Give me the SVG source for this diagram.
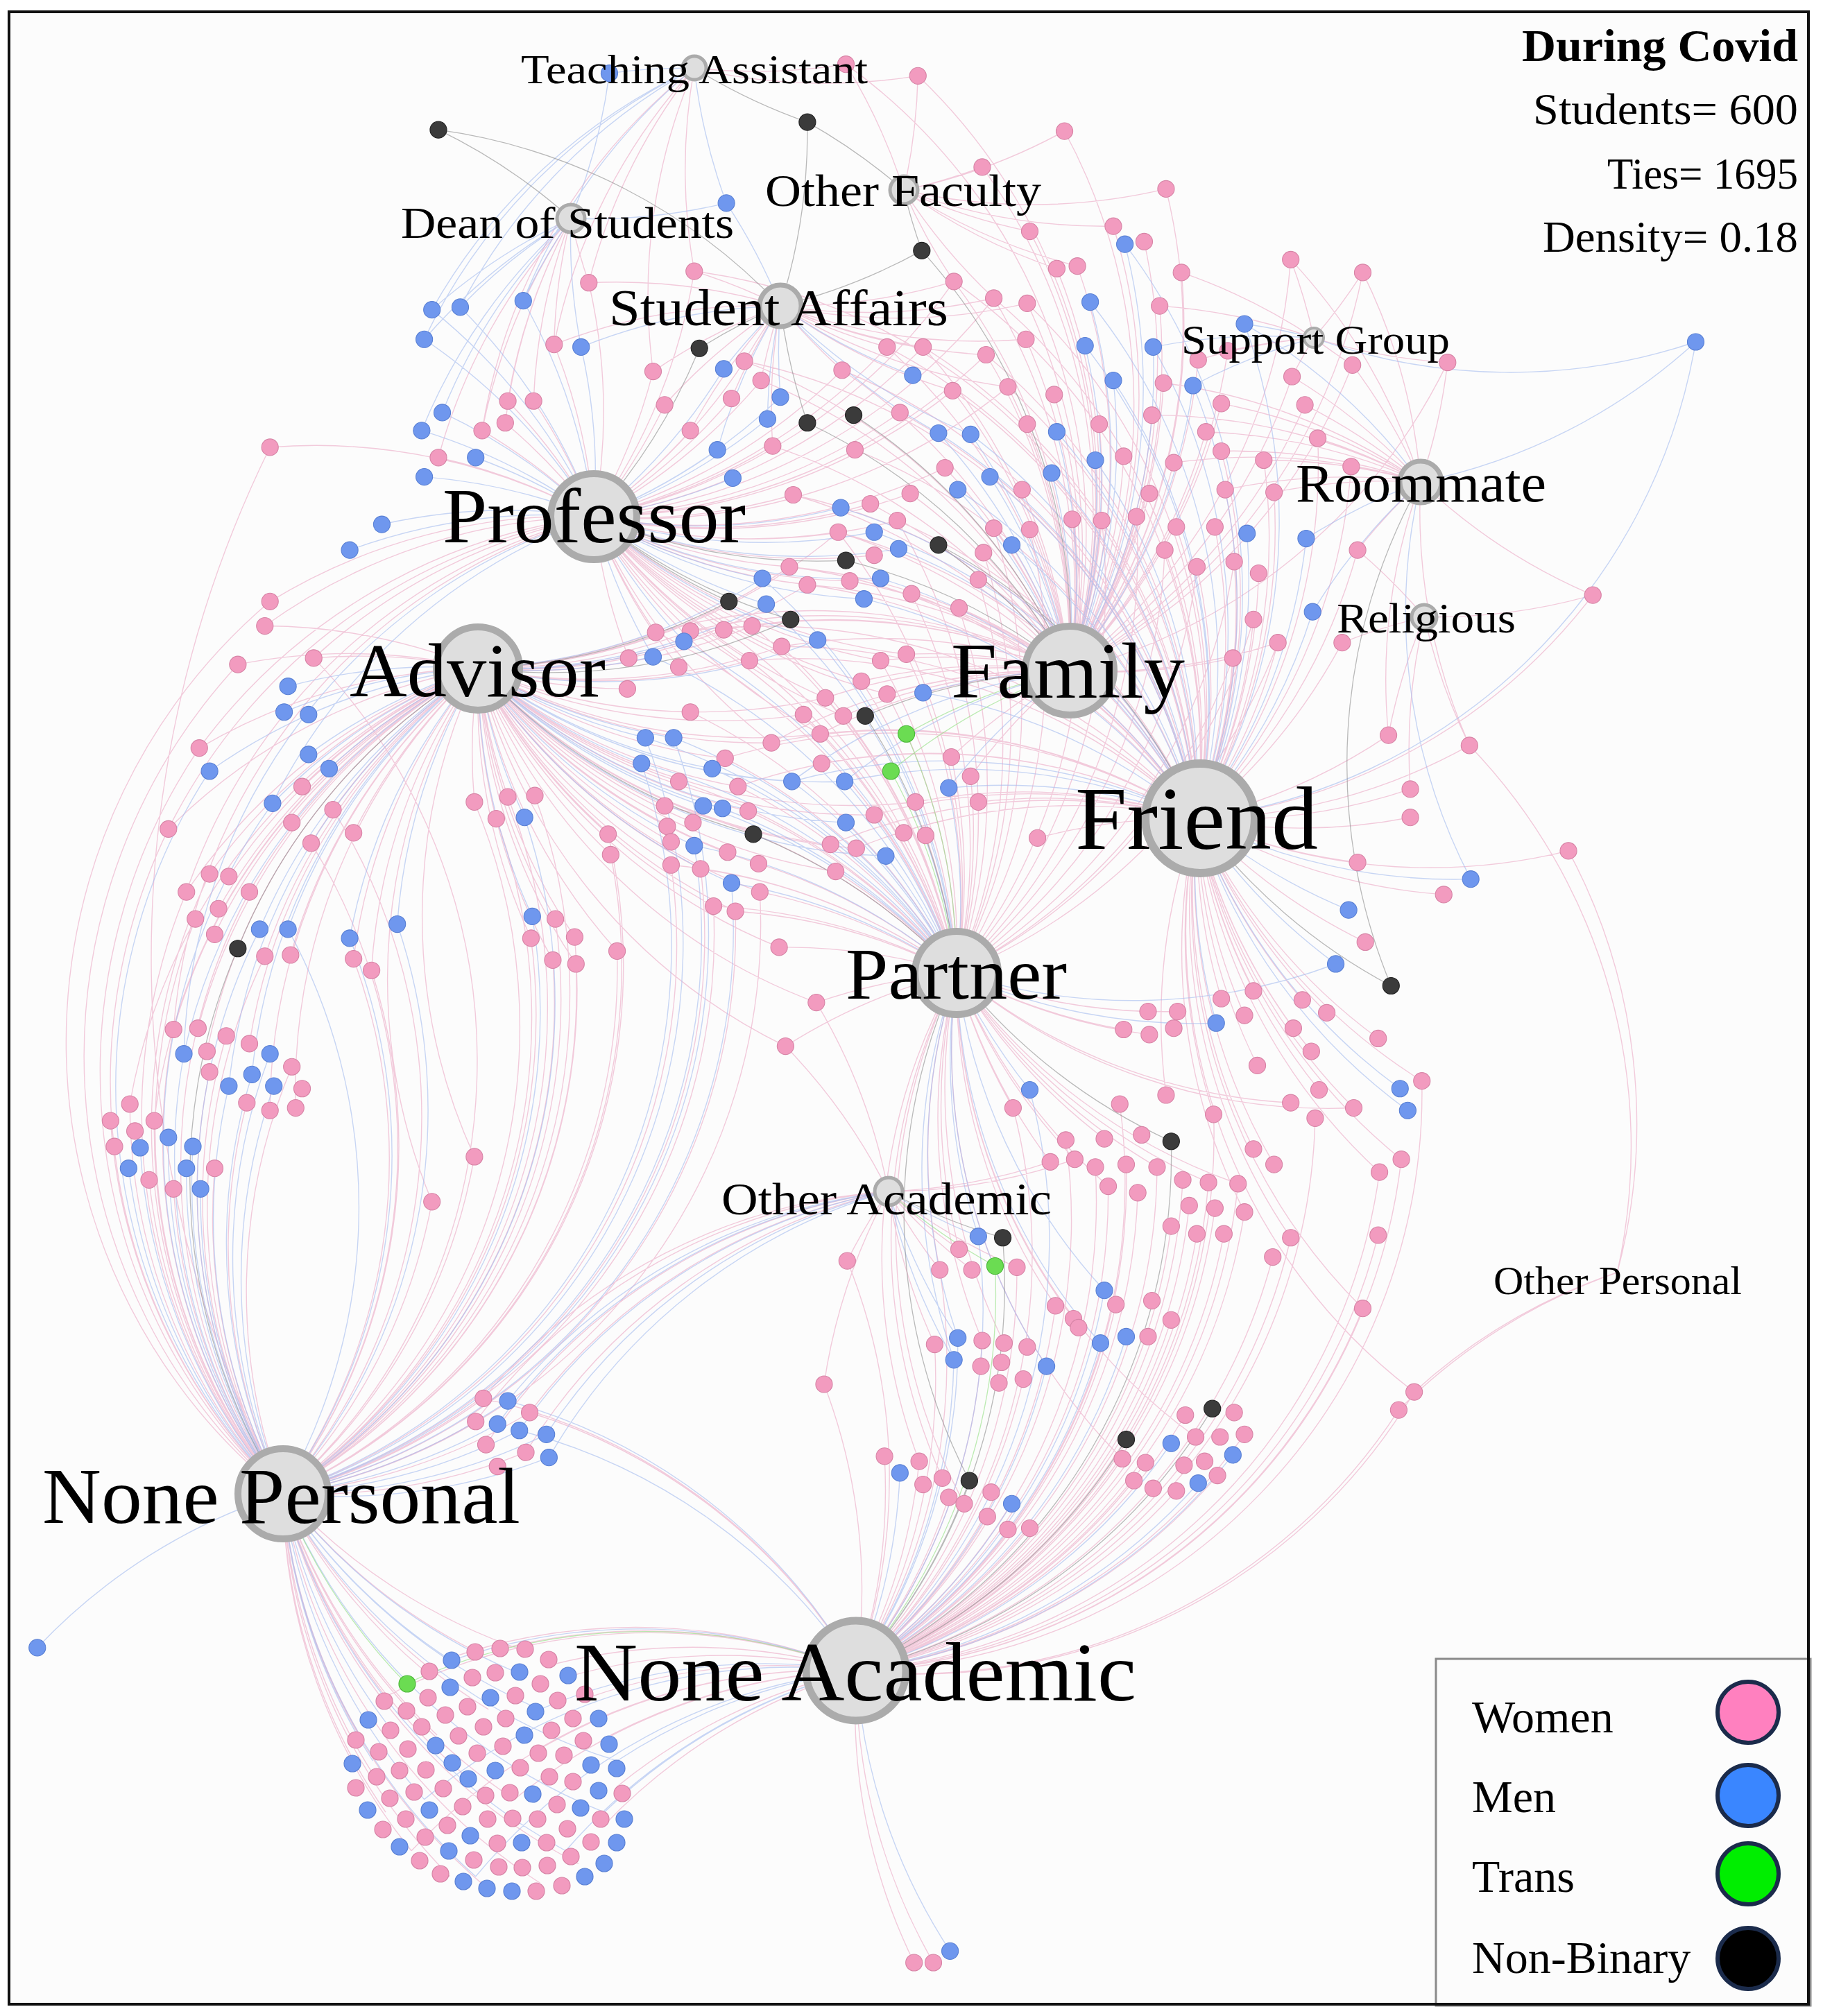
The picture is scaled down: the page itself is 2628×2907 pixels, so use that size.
<svg xmlns="http://www.w3.org/2000/svg" width="2628" height="2907" viewBox="0 0 2628 2907">
<style>
.w{fill:#f29bbf;stroke:#d784a6}
.m{fill:#6f97ee;stroke:#5a80d4}
.n{fill:#3b3b3b;stroke:#222}
.t{fill:#6bdc52;stroke:#4cb83a}
.st circle{stroke-width:.6}
.bl circle{stroke-width:1.2}
.hub{fill:#dedede;stroke:#ababab}
.lbl{font-family:"Liberation Serif","Times New Roman",serif;fill:#000}
.ep{fill:none;stroke:#eba9c5;stroke-width:.75;stroke-opacity:.6}
.eb{fill:none;stroke:#a3bbef;stroke-width:.75;stroke-opacity:.6}
.eg{fill:none;stroke:#8c8c8c;stroke-width:.7;stroke-opacity:.6}
.et{fill:none;stroke:#8fe07f;stroke-width:.7;stroke-opacity:.6}
.lg{stroke:#1b2b4b;stroke-width:6}
</style>
<rect width="2628" height="2907" fill="#fff"/>
<rect x="13" y="17" width="2594" height="2873" fill="#fcfcfc"/>
<g id="connectors" transform="scale(1.8533)">
<path class="ep" d="M300 1320A450 450 0 0 1 220 1162M330 1300A450 450 0 0 1 220 1162M370 1285A450 450 0 0 1 220 1162M410 1285A450 450 0 0 1 220 1162M280 1350A450 450 0 0 1 220 1162M290 1380A450 450 0 0 1 220 1162M300 1410A450 450 0 0 1 220 1162M320 1440A450 450 0 0 1 220 1162M350 1460A450 450 0 0 1 220 1162M380 1470A450 450 0 0 1 220 1162M420 1465A450 450 0 0 1 220 1162M340 1350A450 450 0 0 1 220 1162M360 1380A450 450 0 0 1 220 1162M400 1400A450 450 0 0 1 220 1162M380 1330A450 450 0 0 1 220 1162M450 1450A450 450 0 0 1 220 1162M145 694A450 450 0 0 0 220 1162M163 680A450 450 0 0 0 220 1162M194 694A450 450 0 0 0 220 1162M152 715A450 450 0 0 0 220 1162M206 744A450 450 0 0 0 220 1162M135 801A450 450 0 0 0 220 1162M176 806A450 450 0 0 0 220 1162M227 830A450 450 0 0 0 220 1162M163 834A450 450 0 0 0 220 1162M192 858A450 450 0 0 0 220 1162M101 859A450 450 0 0 0 220 1162M86 872A450 450 0 0 0 220 1162M120 872A450 450 0 0 0 220 1162M116 918A450 450 0 0 0 220 1162M167 909A450 450 0 0 0 220 1162M135 925A450 450 0 0 0 220 1162M155 582A450 450 0 0 0 220 1162M131 645A450 450 0 0 0 220 1162M259 630A450 450 0 0 1 220 1162M242 656A450 450 0 0 1 220 1162M275 746A450 450 0 0 1 220 1162M289 755A450 450 0 0 1 220 1162M336 935A450 450 0 0 1 220 1162M369 900A450 450 0 0 1 220 1162M210 468A450 450 0 0 0 220 1162M185 517A450 450 0 0 0 220 1162M376 1088A450 450 0 0 1 220 1162M412 1099A450 450 0 0 1 220 1162M370 1106A450 450 0 0 1 220 1162M409 1130A450 450 0 0 1 220 1162M210 348A900 900 0 0 0 220 1162M244 512A450 450 0 0 1 220 1162M432 715A450 450 0 0 1 220 1162M413 730A450 450 0 0 1 220 1162M447 729A450 450 0 0 1 220 1162M430 747A450 450 0 0 1 220 1162M448 750A450 450 0 0 1 220 1162M480 740A450 450 0 0 1 220 1162M369 624A450 450 0 0 1 220 1162M395 620A450 450 0 0 1 220 1162M416 619A450 450 0 0 1 220 1162M386 637A450 450 0 0 1 220 1162M473 649A450 450 0 0 1 220 1162M475 665A450 450 0 0 1 220 1162M522 673A450 450 0 0 1 220 1162M545 676A450 450 0 0 1 220 1162M555 705A450 450 0 0 1 220 1162M572 709A450 450 0 0 1 220 1162M591 694A450 450 0 0 1 220 1162
M430 1295A450 450 0 0 1 666 1300M460 1320A450 450 0 0 1 666 1300M475 1350A450 450 0 0 1 666 1300M480 1390A450 450 0 0 1 666 1300M470 1420A450 450 0 0 1 666 1300M440 1305A450 450 0 0 1 666 1300M420 1360A450 450 0 0 1 666 1300M400 1400A450 450 0 0 1 666 1300M350 1290A450 450 0 0 1 666 1300M390 1283A450 450 0 0 1 666 1300M320 1440A450 450 0 0 1 666 1300M300 1320A450 450 0 0 1 666 1300M873 1135A450 450 0 0 1 666 1300M891 1138A450 450 0 0 1 666 1300M882 1152A450 450 0 0 1 666 1300M915 1160A450 450 0 0 1 666 1300M947 1148A450 450 0 0 1 666 1300M968 1116A450 450 0 0 1 666 1300M922 1101A450 450 0 0 1 666 1300M688 1133A450 450 0 0 1 666 1300M715 1137A450 450 0 0 1 666 1300M738 1165A450 450 0 0 1 666 1300M768 1180A450 450 0 0 1 666 1300M801 1189A450 450 0 0 1 666 1300M727 1046A450 450 0 0 1 666 1300M764 1043A450 450 0 0 1 666 1300M796 1073A450 450 0 0 1 666 1300M821 1016A450 450 0 0 1 666 1300M868 1015A450 450 0 0 1 666 1300M911 1027A450 450 0 0 1 666 1300M731 988A450 450 0 0 1 666 1300M791 986A450 450 0 0 1 666 1300M659 981A450 450 0 0 1 666 1300M641 1077A450 450 0 0 1 666 1300M829 887A450 450 0 0 1 666 1300M852 908A450 450 0 0 1 666 1300M885 928A450 450 0 0 1 666 1300M925 938A450 450 0 0 1 666 1300M952 960A450 450 0 0 1 666 1300M990 978A450 450 0 0 1 666 1300M1072 961A450 450 0 0 1 666 1300M1060 1018A450 450 0 0 1 666 1300M1100 1083A450 450 0 0 1 666 1300M1088 1097A450 450 0 0 1 666 1300M711 1527A450 450 0 0 1 666 1300M726 1527A450 450 0 0 1 666 1300M376 1088A450 450 0 0 1 666 1300M412 1099A450 450 0 0 1 666 1300M788 862A450 450 0 0 1 666 1300M871 859A450 450 0 0 1 666 1300M944 867A450 450 0 0 1 666 1300M1004 963A450 450 0 0 1 666 1300M968 943A450 450 0 0 1 666 1300M945 940A450 450 0 0 1 666 1300M911 954A450 450 0 0 1 666 1300M931 960A450 450 0 0 1 666 1300M963 921A450 450 0 0 1 666 1300M940 920A450 450 0 0 1 666 1300M920 918A450 450 0 0 1 666 1300M862 923A450 450 0 0 1 666 1300M876 906A450 450 0 0 1 666 1300M900 908A450 450 0 0 1 666 1300M1090 902A450 450 0 0 1 666 1300M1073 912A450 450 0 0 1 666 1300M1106 841A450 450 0 0 1 666 1300M1023 870A450 450 0 0 1 666 1300
M893 787A450 450 0 0 1 744 757M916 787A450 450 0 0 1 744 757M874 801A450 450 0 0 1 744 757M894 805A450 450 0 0 1 744 757M788 862A450 450 0 0 1 744 757M836 902A450 450 0 0 1 744 757M859 886A450 450 0 0 1 744 757M900 908A450 450 0 0 1 744 757M817 904A450 450 0 0 1 744 757M862 923A450 450 0 0 1 744 757M746 972A450 450 0 0 1 744 757M731 988A450 450 0 0 1 744 757M764 1043A450 450 0 0 1 744 757M781 1045A450 450 0 0 1 744 757M821 1016A450 450 0 0 1 744 757M835 1026A450 450 0 0 1 744 757M715 1137A450 450 0 0 1 744 757M733 1150A450 450 0 0 1 744 757M750 1170A450 450 0 0 1 744 757M635 780A450 450 0 0 1 744 757M611 814A450 450 0 0 1 744 757M606 737A450 450 0 0 1 744 757M703 648A450 450 0 0 1 744 757M720 650A450 450 0 0 1 744 757M761 624A450 450 0 0 1 744 757M740 589A450 450 0 0 1 744 757M755 604A450 450 0 0 1 744 757M680 634A450 450 0 0 1 744 757M650 678A450 450 0 0 1 744 757M1004 858A450 450 0 0 1 744 757M1053 862A450 450 0 0 1 744 757M940 920A450 450 0 0 1 744 757M963 921A450 450 0 0 1 744 757M873 1135A450 450 0 0 1 744 757M930 1118A450 450 0 0 1 744 757M510 492A450 450 0 0 1 744 757M537 491A450 450 0 0 1 744 757M563 490A450 450 0 0 1 744 757M585 487A450 450 0 0 1 744 757M583 514A450 450 0 0 1 744 757M608 503A450 450 0 0 1 744 757M537 554A450 450 0 0 1 744 757M564 590A450 450 0 0 1 744 757M528 608A450 450 0 0 1 744 757M574 612A450 450 0 0 1 744 757M517 627A450 450 0 0 1 744 757M582 631A450 450 0 0 1 744 757M522 673A450 450 0 0 1 744 757M545 676A450 450 0 0 1 744 757M590 672A450 450 0 0 1 744 757M591 694A450 450 0 0 1 744 757M555 705A450 450 0 0 1 744 757M572 709A450 450 0 0 1 744 757M652 414A450 450 0 0 1 744 757M698 405A450 450 0 0 1 744 757M773 411A450 450 0 0 1 744 757M801 412A450 450 0 0 1 744 757M834 404A450 450 0 0 1 744 757M857 405A450 450 0 0 1 744 757M884 402A450 450 0 0 1 744 757M765 430A450 450 0 0 1 744 757M709 462A450 450 0 0 1 744 757M746 473A450 450 0 0 1 744 757M761 451A450 450 0 0 1 744 757M685 514A450 450 0 0 1 744 757M705 509A450 450 0 0 1 744 757M670 530A450 450 0 0 1 744 757M690 540A450 450 0 0 1 744 757M642 543A450 450 0 0 1 744 757M656 557A450 450 0 0 1 744 757M625 556A450 450 0 0 1 744 757M906 428A450 450 0 0 1 744 757M931 441A450 450 0 0 1 744 757M960 437A450 450 0 0 1 744 757M959 512A450 450 0 0 1 744 757M994 500A450 450 0 0 1 744 757M975 482A450 450 0 0 1 744 757
M950 777A450 450 0 0 1 931 637M975 771A450 450 0 0 1 931 637M1013 778A450 450 0 0 1 931 637M1032 788A450 450 0 0 1 931 637M968 790A450 450 0 0 1 931 637M1006 800A450 450 0 0 1 931 637M978 829A450 450 0 0 1 931 637M1020 818A450 450 0 0 1 931 637M1072 808A450 450 0 0 1 931 637M1106 841A450 450 0 0 1 931 637M1026 848A450 450 0 0 1 931 637M1053 862A450 450 0 0 1 931 637M1073 912A450 450 0 0 1 931 637M1090 902A450 450 0 0 1 931 637M975 894A450 450 0 0 1 931 637M991 906A450 450 0 0 1 931 637M907 852A450 450 0 0 1 931 637M944 867A450 450 0 0 1 931 637M1080 572A450 450 0 0 1 931 637M1143 580A450 450 0 0 1 931 637M1097 614A450 450 0 0 1 931 637M1097 636A450 450 0 0 1 931 637M1056 671A450 450 0 0 1 931 637M1123 696A450 450 0 0 1 931 637M1062 733A450 450 0 0 1 931 637M1220 662A450 450 0 0 1 931 637M1239 463A450 450 0 0 1 931 637M994 500A450 450 0 0 1 931 637M1044 500A450 450 0 0 1 931 637M975 482A450 450 0 0 1 931 637M959 512A450 450 0 0 1 931 637M906 428A450 450 0 0 1 931 637M931 441A450 450 0 0 1 931 637M960 437A450 450 0 0 1 931 637M979 446A450 450 0 0 1 931 637M915 410A450 450 0 0 1 931 637M945 410A450 450 0 0 1 931 637M953 381A450 450 0 0 1 931 637M991 383A450 450 0 0 1 931 637M1056 428A450 450 0 0 1 931 637M1051 363A450 450 0 0 1 931 637M1025 341A450 450 0 0 1 931 637M950 351A450 450 0 0 1 931 637M983 358A450 450 0 0 1 931 637M807 652A450 450 0 0 1 931 637M761 624A450 450 0 0 1 931 637M746 473A450 450 0 0 1 931 637M761 451A450 450 0 0 1 931 637M709 462A450 450 0 0 1 931 637M1004 963A450 450 0 0 1 931 637M1060 1018A450 450 0 0 1 931 637M968 943A450 450 0 0 1 931 637M1100 1083A450 450 0 0 1 931 637M540 211A450 450 0 0 1 931 637M579 281A450 450 0 0 1 931 637M655 288A450 450 0 0 1 931 637M690 270A450 450 0 0 1 931 637M718 270A450 450 0 0 1 931 637M742 219A450 450 0 0 1 931 637M773 232A450 450 0 0 1 931 637M799 236A450 450 0 0 1 931 637M767 276A450 450 0 0 1 931 637M741 304A450 450 0 0 1 931 637M784 301A450 450 0 0 1 931 637M700 321A450 450 0 0 1 931 637M665 350A450 450 0 0 1 931 637M617 385A450 450 0 0 1 931 637M652 414A450 450 0 0 1 931 637M698 405A450 450 0 0 1 931 637M614 441A450 450 0 0 1 931 637M628 455A450 450 0 0 1 931 637M537 491A450 450 0 0 1 931 637M583 514A450 450 0 0 1 931 637M608 503A450 450 0 0 1 931 637M600 578A450 450 0 0 1 931 637M638 571A450 450 0 0 1 931 637M564 590A450 450 0 0 1 931 637M574 612A450 450 0 0 1 931 637M639 594A450 450 0 0 1 931 637M712 624A450 450 0 0 1 931 637M680 634A450 450 0 0 1 931 637M646 657A450 450 0 0 1 931 637M666 660A450 450 0 0 1 931 637
M913 360A450 450 0 0 1 832 522M874 355A450 450 0 0 1 832 522M894 384A450 450 0 0 1 832 522M884 402A450 450 0 0 1 832 522M857 405A450 450 0 0 1 832 522M834 404A450 450 0 0 1 832 522M801 412A450 450 0 0 1 832 522M773 411A450 450 0 0 1 832 522M765 430A450 450 0 0 1 832 522M795 381A450 450 0 0 1 832 522M735 364A450 450 0 0 1 832 522M708 384A450 450 0 0 1 832 522M677 392A450 450 0 0 1 832 522M799 330A450 450 0 0 1 832 522M855 330A450 450 0 0 1 832 522M896 323A450 450 0 0 1 832 522M938 336A450 450 0 0 1 832 522M820 307A450 450 0 0 1 832 522M905 298A450 450 0 0 1 832 522M950 314A450 450 0 0 1 832 522M1005 293A450 450 0 0 1 832 522M902 238A450 450 0 0 1 832 522M932 280A450 450 0 0 1 832 522M955 273A450 450 0 0 1 832 522M919 212A450 450 0 0 1 832 522M1004 202A450 450 0 0 1 832 522M1060 212A450 450 0 0 1 832 522M866 176A450 450 0 0 1 832 522M890 188A450 450 0 0 1 832 522M828 102A450 450 0 0 1 832 522M907 147A450 450 0 0 1 832 522M685 514A450 450 0 0 1 832 522M705 509A450 450 0 0 1 832 522M670 530A450 450 0 0 1 832 522M690 540A450 450 0 0 1 832 522M642 543A450 450 0 0 1 832 522M656 557A450 450 0 0 1 832 522M600 578A450 450 0 0 1 832 522M638 571A450 450 0 0 1 832 522M740 589A450 450 0 0 1 832 522M755 604A450 450 0 0 1 832 522M959 512A450 450 0 0 1 832 522M994 500A450 450 0 0 1 832 522M746 473A450 450 0 0 1 832 522M1126 282A450 450 0 0 1 832 522M1052 284A450 450 0 0 1 832 522M1015 315A450 450 0 0 1 832 522M510 492A450 450 0 0 1 832 522M537 491A450 450 0 0 1 832 522M563 490A450 450 0 0 1 832 522M585 487A450 450 0 0 1 832 522M608 503A450 450 0 0 1 832 522M614 441A450 450 0 0 1 832 522M628 455A450 450 0 0 1 832 522M661 452A450 450 0 0 1 832 522M652 414A450 450 0 0 1 832 522M617 385A450 450 0 0 1 832 522M601 347A450 450 0 0 1 832 522M592 296A450 450 0 0 1 832 522M579 281A450 450 0 0 1 832 522M655 288A450 450 0 0 1 832 522M690 270A450 450 0 0 1 832 522M718 270A450 450 0 0 1 832 522M741 304A450 450 0 0 1 832 522M784 301A450 450 0 0 1 832 522M767 276A450 450 0 0 1 832 522M798 264A450 450 0 0 1 832 522M773 232A450 450 0 0 1 832 522M799 236A450 450 0 0 1 832 522M742 219A450 450 0 0 1 832 522M822 209A450 450 0 0 1 832 522M838 207A450 450 0 0 1 832 522M801 180A450 450 0 0 1 832 522M764 130A450 450 0 0 1 832 522M714 59A450 450 0 0 1 832 522M658 50A450 450 0 0 1 832 522
M375 335A450 450 0 0 1 462 402M393 329A450 450 0 0 1 462 402M395 312A450 450 0 0 1 462 402M415 312A450 450 0 0 1 462 402M341 356A450 450 0 0 1 462 402M431 268A450 450 0 0 1 462 402M458 220A450 450 0 0 1 462 402M508 289A450 450 0 0 1 462 402M517 315A450 450 0 0 1 462 402M537 335A450 450 0 0 1 462 402M569 310A450 450 0 0 1 462 402M579 281A450 450 0 0 1 462 402M592 296A450 450 0 0 1 462 402M601 347A450 450 0 0 1 462 402M617 385A450 450 0 0 1 462 402M614 441A450 450 0 0 1 462 402M628 455A450 450 0 0 1 462 402M652 414A450 450 0 0 1 462 402M510 492A450 450 0 0 1 462 402M537 491A450 450 0 0 1 462 402M563 490A450 450 0 0 1 462 402M585 487A450 450 0 0 1 462 402M583 514A450 450 0 0 1 462 402M608 503A450 450 0 0 1 462 402M489 512A450 450 0 0 1 462 402M528 519A450 450 0 0 1 462 402M540 211A450 450 0 0 1 462 402M655 288A450 450 0 0 1 462 402M665 350A450 450 0 0 1 462 402M700 321A450 450 0 0 1 462 402M210 348A450 450 0 0 1 462 402M661 452A450 450 0 0 1 462 402M680 432A450 450 0 0 1 462 402M244 512A450 450 0 0 1 462 402M206 487A450 450 0 0 1 462 402M210 468A450 450 0 0 1 462 402M135 801A450 450 0 0 1 462 402M145 694A450 450 0 0 1 462 402M155 582A450 450 0 0 1 462 402M131 645A450 450 0 0 1 462 402M685 514A450 450 0 0 1 462 402M705 509A450 450 0 0 1 462 402M670 530A450 450 0 0 1 462 402M690 540A450 450 0 0 1 462 402M642 543A450 450 0 0 1 462 402M656 557A450 450 0 0 1 462 402M600 578A450 450 0 0 1 462 402M638 571A450 450 0 0 1 462 402M698 405A450 450 0 0 1 462 402M708 384A450 450 0 0 1 462 402M735 364A450 450 0 0 1 462 402M677 392A450 450 0 0 1 462 402M741 304A450 450 0 0 1 462 402M784 301A450 450 0 0 1 462 402M767 276A450 450 0 0 1 462 402M690 270A450 450 0 0 1 462 402M718 270A450 450 0 0 1 462 402M742 219A450 450 0 0 1 462 402M773 232A450 450 0 0 1 462 402
M244 512A450 450 0 0 1 372 520M185 517A450 450 0 0 1 372 520M206 487A450 450 0 0 1 372 520M155 582A450 450 0 0 1 372 520M235 612A450 450 0 0 1 372 520M259 630A450 450 0 0 1 372 520M227 640A450 450 0 0 1 372 520M131 645A450 450 0 0 1 372 520M275 648A450 450 0 0 1 372 520M242 656A450 450 0 0 1 372 520M369 624A450 450 0 0 1 372 520M395 620A450 450 0 0 1 372 520M416 619A450 450 0 0 1 372 520M386 637A450 450 0 0 1 372 520M473 649A450 450 0 0 1 372 520M475 665A450 450 0 0 1 372 520M517 627A450 450 0 0 1 372 520M519 643A450 450 0 0 1 372 520M522 655A450 450 0 0 1 372 520M522 673A450 450 0 0 1 372 520M545 676A450 450 0 0 1 372 520M566 663A450 450 0 0 1 372 520M590 672A450 450 0 0 1 372 520M591 694A450 450 0 0 1 372 520M555 705A450 450 0 0 1 372 520M572 709A450 450 0 0 1 372 520M582 631A450 450 0 0 1 372 520M539 640A450 450 0 0 1 372 520M528 608A450 450 0 0 1 372 520M574 612A450 450 0 0 1 372 520M564 590A450 450 0 0 1 372 520M537 554A450 450 0 0 1 372 520M488 536A450 450 0 0 1 372 520M489 512A450 450 0 0 1 372 520M432 715A450 450 0 0 1 372 520M413 730A450 450 0 0 1 372 520M447 729A450 450 0 0 1 372 520M430 747A450 450 0 0 1 372 520M448 750A450 450 0 0 1 372 520M480 740A450 450 0 0 1 372 520M145 694A450 450 0 0 1 372 520M163 680A450 450 0 0 1 372 520M178 682A450 450 0 0 1 372 520M194 694A450 450 0 0 1 372 520M170 707A450 450 0 0 1 372 520M167 727A450 450 0 0 1 372 520M206 744A450 450 0 0 1 372 520M226 743A450 450 0 0 1 372 520M275 746A450 450 0 0 1 372 520M289 755A450 450 0 0 1 372 520M135 801A450 450 0 0 1 372 520M154 800A450 450 0 0 1 372 520M194 812A450 450 0 0 1 372 520M161 818A450 450 0 0 1 372 520M210 864A450 450 0 0 1 372 520M230 862A450 450 0 0 1 372 520M369 900A450 450 0 0 1 372 520M336 935A450 450 0 0 1 372 520M101 859A450 450 0 0 1 372 520M120 872A450 450 0 0 1 372 520M614 441A450 450 0 0 1 372 520M628 455A450 450 0 0 1 372 520M652 414A450 450 0 0 1 372 520M510 492A450 450 0 0 1 372 520M537 491A450 450 0 0 1 372 520M563 490A450 450 0 0 1 372 520M585 487A450 450 0 0 1 372 520M583 514A450 450 0 0 1 372 520M608 503A450 450 0 0 1 372 520M600 578A450 450 0 0 1 372 520M638 571A450 450 0 0 1 372 520M625 556A450 450 0 0 1 372 520M642 543A450 450 0 0 1 372 520M712 624A450 450 0 0 1 372 520M680 634A450 450 0 0 1 372 520M646 657A450 450 0 0 1 372 520M666 660A450 450 0 0 1 372 520M650 678A450 450 0 0 1 372 520M606 737A450 450 0 0 1 372 520M635 780A450 450 0 0 1 372 520M611 814A450 450 0 0 1 372 520
M540 211A450 450 0 0 1 607 238M579 281A450 450 0 0 1 607 238M592 296A450 450 0 0 1 607 238M655 288A450 450 0 0 1 607 238M690 270A450 450 0 0 1 607 238M718 270A450 450 0 0 1 607 238M742 219A450 450 0 0 1 607 238M773 232A450 450 0 0 1 607 238M799 236A450 450 0 0 1 607 238M767 276A450 450 0 0 1 607 238M798 264A450 450 0 0 1 607 238M741 304A450 450 0 0 1 607 238M784 301A450 450 0 0 1 607 238M569 310A450 450 0 0 1 607 238M508 289A450 450 0 0 1 607 238M458 220A450 450 0 0 1 607 238M431 268A450 450 0 0 1 607 238M601 347A450 450 0 0 1 607 238M537 335A450 450 0 0 1 607 238M517 315A450 450 0 0 1 607 238
M658 50A450 450 0 0 1 703 148M714 59A450 450 0 0 1 703 148M764 130A450 450 0 0 1 703 148M801 180A450 450 0 0 1 703 148M742 219A450 450 0 0 1 703 148M822 209A450 450 0 0 1 703 148M838 207A450 450 0 0 1 703 148M773 232A450 450 0 0 1 703 148M828 102A450 450 0 0 1 703 148M907 147A450 450 0 0 1 703 148M866 176A450 450 0 0 1 703 148
M458 220A450 450 0 0 1 540 53M540 211A450 450 0 0 1 540 53M658 50A450 450 0 0 1 540 53M431 268A450 450 0 0 1 540 53M508 289A450 450 0 0 1 540 53M375 335A450 450 0 0 1 540 53M714 59A450 450 0 0 1 540 53
M431 268A450 450 0 0 1 444 170M458 220A450 450 0 0 1 444 170M395 312A450 450 0 0 1 444 170M415 312A450 450 0 0 1 444 170M375 335A450 450 0 0 1 444 170M393 329A450 450 0 0 1 444 170M341 356A450 450 0 0 1 444 170
M1126 282A450 450 0 0 1 1105 375M1052 284A450 450 0 0 1 1105 375M1005 293A450 450 0 0 1 1105 375M1015 315A450 450 0 0 1 1105 375M1025 341A450 450 0 0 1 1105 375M1051 363A450 450 0 0 1 1105 375M1056 428A450 450 0 0 1 1105 375M1239 463A450 450 0 0 1 1105 375M1143 580A450 450 0 0 1 1105 375M1080 572A450 450 0 0 1 1105 375M983 358A450 450 0 0 1 1105 375M991 383A450 450 0 0 1 1105 375M950 314A450 450 0 0 1 1105 375M1060 212A450 450 0 0 1 1105 375M1004 202A450 450 0 0 1 1105 375M913 360A450 450 0 0 1 1105 375M950 351A450 450 0 0 1 1105 375M953 381A450 450 0 0 1 1105 375M938 336A450 450 0 0 1 1105 375M896 323A450 450 0 0 1 1105 375M905 298A450 450 0 0 1 1105 375
M1004 202A450 450 0 0 1 1022 263M1060 212A450 450 0 0 1 1022 263M955 273A450 450 0 0 1 1022 263M932 280A450 450 0 0 1 1022 263M1005 293A450 450 0 0 1 1022 263M1052 284A450 450 0 0 1 1022 263M1126 282A450 450 0 0 1 1022 263M919 212A450 450 0 0 1 1022 263M902 238A450 450 0 0 1 1022 263
M746 972A450 450 0 0 1 691 927M731 988A450 450 0 0 1 691 927M756 988A450 450 0 0 1 691 927M791 986A450 450 0 0 1 691 927M727 1046A450 450 0 0 1 691 927M659 981A450 450 0 0 1 691 927M641 1077A450 450 0 0 1 691 927M376 1088A450 450 0 0 1 691 927M412 1099A450 450 0 0 1 691 927M370 1106A450 450 0 0 1 691 927M378 1124A450 450 0 0 1 691 927M409 1130A450 450 0 0 1 691 927M836 902A450 450 0 0 1 691 927M817 904A450 450 0 0 1 691 927M611 814A450 450 0 0 1 691 927M635 780A450 450 0 0 1 691 927
M1239 463A450 450 0 0 1 1108 480M1143 580A450 450 0 0 1 1108 480M1097 614A450 450 0 0 1 1108 480M1044 500A450 450 0 0 1 1108 480M1056 428A450 450 0 0 1 1108 480M1080 572A450 450 0 0 1 1108 480
M1100 1083A450 450 0 0 1 1258 990M1088 1097A450 450 0 0 1 1258 990M1220 662A450 450 0 0 1 1258 990M1143 580A450 450 0 0 1 1258 990"/>
<path class="eb" d="M336 241A450 450 0 0 1 462 402M358 239A450 450 0 0 1 462 402M407 234A450 450 0 0 1 462 402M330 264A450 450 0 0 1 462 402M452 270A450 450 0 0 1 462 402M563 287A450 450 0 0 1 462 402M328 335A450 450 0 0 1 462 402M344 321A450 450 0 0 1 462 402M370 356A450 450 0 0 1 462 402M330 371A450 450 0 0 1 462 402M297 408A450 450 0 0 1 462 402M272 428A450 450 0 0 1 462 402M570 372A450 450 0 0 1 462 402M558 350A450 450 0 0 1 462 402M597 326A450 450 0 0 1 462 402M607 309A450 450 0 0 1 462 402M593 450A450 450 0 0 1 462 402M596 470A450 450 0 0 1 462 402M636 498A450 450 0 0 1 462 402M532 499A450 450 0 0 1 462 402M508 511A450 450 0 0 1 462 402M654 395A450 450 0 0 1 462 402M680 414A450 450 0 0 1 462 402M699 427A450 450 0 0 1 462 402M685 450A450 450 0 0 1 462 402M672 466A450 450 0 0 1 462 402M143 820A450 450 0 0 1 462 402M212 625A450 450 0 0 1 462 402
M336 241A450 450 0 0 1 444 170M358 239A450 450 0 0 1 444 170M407 234A450 450 0 0 1 444 170M330 264A450 450 0 0 1 444 170M452 270A450 450 0 0 1 444 170M344 321A450 450 0 0 1 444 170M328 335A450 450 0 0 1 444 170M565 158A450 450 0 0 1 444 170M474 57A450 450 0 0 1 444 170
M474 57A450 450 0 0 1 540 53M565 158A450 450 0 0 1 540 53M336 241A450 450 0 0 1 540 53M358 239A450 450 0 0 1 540 53M407 234A450 450 0 0 1 540 53M330 264A450 450 0 0 1 540 53
M563 287A450 450 0 0 1 607 238M607 309A450 450 0 0 1 607 238M597 326A450 450 0 0 1 607 238M558 350A450 450 0 0 1 607 238M710 292A450 450 0 0 1 607 238M730 337A450 450 0 0 1 607 238M755 338A450 450 0 0 1 607 238M565 158A450 450 0 0 1 607 238M452 270A450 450 0 0 1 607 238
M730 337A450 450 0 0 1 832 522M755 338A450 450 0 0 1 832 522M822 336A450 450 0 0 1 832 522M745 381A450 450 0 0 1 832 522M770 371A450 450 0 0 1 832 522M818 368A450 450 0 0 1 832 522M852 358A450 450 0 0 1 832 522M787 424A450 450 0 0 1 832 522M848 235A450 450 0 0 1 832 522M844 269A450 450 0 0 1 832 522M866 296A450 450 0 0 1 832 522M875 190A450 450 0 0 1 832 522M897 270A450 450 0 0 1 832 522M928 300A450 450 0 0 1 832 522M718 539A450 450 0 0 1 832 522M738 613A450 450 0 0 1 832 522M657 608A450 450 0 0 1 832 522M616 608A450 450 0 0 1 832 522
M970 415A450 450 0 0 1 931 637M1016 419A450 450 0 0 1 931 637M1021 476A450 450 0 0 1 931 637M1049 708A450 450 0 0 1 931 637M1039 750A450 450 0 0 1 931 637M1144 684A450 450 0 0 1 931 637M946 796A450 450 0 0 1 931 637M1089 847A450 450 0 0 1 931 637M1095 864A450 450 0 0 1 931 637M968 252A450 450 0 0 1 931 637M928 300A450 450 0 0 1 931 637M1319 266A450 450 0 0 1 931 637M852 358A450 450 0 0 1 931 637M818 368A450 450 0 0 1 931 637M730 337A450 450 0 0 1 931 637M755 338A450 450 0 0 1 931 637M822 336A450 450 0 0 1 931 637M745 381A450 450 0 0 1 931 637M770 371A450 450 0 0 1 931 637M787 424A450 450 0 0 1 931 637M654 395A450 450 0 0 1 931 637M680 414A450 450 0 0 1 931 637M699 427A450 450 0 0 1 931 637M685 450A450 450 0 0 1 931 637M672 466A450 450 0 0 1 931 637M718 539A450 450 0 0 1 931 637M738 613A450 450 0 0 1 931 637M657 608A450 450 0 0 1 931 637M616 608A450 450 0 0 1 931 637M848 235A450 450 0 0 1 931 637M844 269A450 450 0 0 1 931 637M866 296A450 450 0 0 1 931 637M875 190A450 450 0 0 1 931 637M897 270A450 450 0 0 1 931 637
M224 534A450 450 0 0 1 372 520M221 554A450 450 0 0 1 372 520M240 556A450 450 0 0 1 372 520M163 600A450 450 0 0 1 372 520M240 587A450 450 0 0 1 372 520M256 598A450 450 0 0 1 372 520M212 625A450 450 0 0 1 372 520M408 636A450 450 0 0 1 372 520M502 574A450 450 0 0 1 372 520M524 574A450 450 0 0 1 372 520M499 594A450 450 0 0 1 372 520M554 598A450 450 0 0 1 372 520M547 627A450 450 0 0 1 372 520M562 629A450 450 0 0 1 372 520M540 658A450 450 0 0 1 372 520M569 687A450 450 0 0 1 372 520M202 723A450 450 0 0 1 372 520M224 723A450 450 0 0 1 372 520M309 719A450 450 0 0 1 372 520M272 730A450 450 0 0 1 372 520M414 713A450 450 0 0 1 372 520M143 820A450 450 0 0 1 372 520M178 845A450 450 0 0 1 372 520M196 836A450 450 0 0 1 372 520M593 450A450 450 0 0 1 372 520M596 470A450 450 0 0 1 372 520M636 498A450 450 0 0 1 372 520M532 499A450 450 0 0 1 372 520M508 511A450 450 0 0 1 372 520M616 608A450 450 0 0 1 372 520M657 608A450 450 0 0 1 372 520M658 640A450 450 0 0 1 372 520M689 666A450 450 0 0 1 372 520
M143 820A450 450 0 0 0 220 1162M210 820A450 450 0 0 0 220 1162M178 845A450 450 0 0 0 220 1162M196 836A450 450 0 0 0 220 1162M213 845A450 450 0 0 0 220 1162M131 885A450 450 0 0 0 220 1162M109 893A450 450 0 0 0 220 1162M150 892A450 450 0 0 0 220 1162M100 909A450 450 0 0 0 220 1162M145 909A450 450 0 0 0 220 1162M156 925A450 450 0 0 0 220 1162M29 1282A450 450 0 0 1 220 1162M202 723A450 450 0 0 0 220 1162M224 723A450 450 0 0 1 220 1162M272 730A450 450 0 0 1 220 1162M309 719A450 450 0 0 1 220 1162M395 1090A450 450 0 0 1 220 1162M387 1108A450 450 0 0 1 220 1162M404 1113A450 450 0 0 1 220 1162M425 1116A450 450 0 0 1 220 1162M427 1134A450 450 0 0 1 220 1162M163 600A450 450 0 0 0 220 1162M212 625A450 450 0 0 0 220 1162M351 1292A450 450 0 0 1 220 1162M399 1300A450 450 0 0 1 220 1162M300 1340A450 450 0 0 1 220 1162M290 1370A450 450 0 0 1 220 1162M330 1400A450 450 0 0 1 220 1162M370 1460A450 450 0 0 1 220 1162M440 1440A450 450 0 0 1 220 1162M470 1410A450 450 0 0 1 220 1162M480 1370A450 450 0 0 1 220 1162M420 1330A450 450 0 0 1 220 1162M408 636A450 450 0 0 1 220 1162M414 713A450 450 0 0 1 220 1162M540 658A450 450 0 0 1 220 1162M569 687A450 450 0 0 1 220 1162M502 574A450 450 0 0 1 220 1162M524 574A450 450 0 0 1 220 1162M499 594A450 450 0 0 1 220 1162
M351 1292A450 450 0 0 1 666 1300M420 1330A450 450 0 0 1 666 1300M480 1370A450 450 0 0 1 666 1300M470 1410A450 450 0 0 1 666 1300M440 1440A450 450 0 0 1 666 1300M370 1460A450 450 0 0 1 666 1300M330 1400A450 450 0 0 1 666 1300M911 1123A450 450 0 0 1 666 1300M959 1132A450 450 0 0 1 666 1300M932 1154A450 450 0 0 1 666 1300M700 1146A450 450 0 0 1 666 1300M787 1170A450 450 0 0 1 666 1300M745 1041A450 450 0 0 1 666 1300M742 1058A450 450 0 0 1 666 1300M814 1063A450 450 0 0 1 666 1300M856 1045A450 450 0 0 1 666 1300M876 1040A450 450 0 0 1 666 1300M859 1004A450 450 0 0 1 666 1300M761 962A450 450 0 0 1 666 1300M739 1518A450 450 0 0 1 666 1300M801 848A450 450 0 0 1 666 1300M395 1090A450 450 0 0 1 666 1300M404 1113A450 450 0 0 1 666 1300
M801 848A450 450 0 0 1 744 757M761 962A450 450 0 0 1 744 757M745 1041A450 450 0 0 1 744 757M742 1058A450 450 0 0 1 744 757M814 1063A450 450 0 0 1 744 757M657 608A450 450 0 0 1 744 757M689 666A450 450 0 0 1 744 757M658 640A450 450 0 0 1 744 757M738 613A450 450 0 0 1 744 757M946 796A450 450 0 0 1 744 757M1039 750A450 450 0 0 1 744 757M859 1004A450 450 0 0 1 744 757M856 1045A450 450 0 0 1 744 757M593 450A450 450 0 0 1 744 757M596 470A450 450 0 0 1 744 757M636 498A450 450 0 0 1 744 757M532 499A450 450 0 0 1 744 757M508 511A450 450 0 0 1 744 757M502 574A450 450 0 0 1 744 757M524 574A450 450 0 0 1 744 757M499 594A450 450 0 0 1 744 757M554 598A450 450 0 0 1 744 757M547 627A450 450 0 0 1 744 757M562 629A450 450 0 0 1 744 757M540 658A450 450 0 0 1 744 757M569 687A450 450 0 0 1 744 757M616 608A450 450 0 0 1 744 757
M1319 266A450 450 0 0 1 1105 375M1016 419A450 450 0 0 1 1105 375M968 252A450 450 0 0 1 1105 375M1021 476A450 450 0 0 1 1105 375M1144 684A450 450 0 0 1 1105 375
M761 962A450 450 0 0 1 691 927M745 1041A450 450 0 0 1 691 927M742 1058A450 450 0 0 1 691 927M395 1090A450 450 0 0 1 691 927M387 1108A450 450 0 0 1 691 927M404 1113A450 450 0 0 1 691 927M425 1116A450 450 0 0 1 691 927M427 1134A450 450 0 0 1 691 927
M968 252A450 450 0 0 1 1022 263M928 300A450 450 0 0 1 1022 263M897 270A450 450 0 0 1 1022 263M1319 266A450 450 0 0 1 1022 263"/>
<path class="eg" d="M341 101A450 450 0 0 1 444 170M341 101A450 450 0 0 1 607 238M628 95A450 450 0 0 1 703 148M628 95A450 450 0 0 1 540 53M628 95A450 450 0 0 1 607 238M717 195A450 450 0 0 1 703 148M717 195A450 450 0 0 1 607 238M717 195A450 450 0 0 1 832 522M544 271A450 450 0 0 1 462 402M544 271A450 450 0 0 1 607 238M628 329A450 450 0 0 1 607 238M628 329A450 450 0 0 1 832 522M664 323A450 450 0 0 1 832 522M730 424A450 450 0 0 1 832 522M730 424A450 450 0 0 1 931 637M658 436A450 450 0 0 1 462 402M658 436A450 450 0 0 1 832 522M567 468A450 450 0 0 1 462 402M567 468A450 450 0 0 1 372 520M615 482A450 450 0 0 1 462 402M615 482A450 450 0 0 1 372 520M673 557A450 450 0 0 1 832 522M673 557A450 450 0 0 1 744 757M586 649A450 450 0 0 1 372 520M586 649A450 450 0 0 1 744 757M185 738A450 450 0 0 1 372 520M185 738A450 450 0 0 0 220 1162M1082 767A450 450 0 0 1 931 637M1082 767A450 450 0 0 1 1105 375M911 888A450 450 0 0 1 744 757M911 888A450 450 0 0 1 666 1300M780 963A450 450 0 0 1 691 927M780 963A450 450 0 0 1 666 1300M943 1096A450 450 0 0 1 666 1300M876 1120A450 450 0 0 1 666 1300M754 1152A450 450 0 0 1 666 1300M754 1152A450 450 0 0 1 744 757"/>
<path class="et" d="M705 571A450 450 0 0 1 832 522M705 571A450 450 0 0 1 744 757M693 600A450 450 0 0 1 744 757M693 600A450 450 0 0 1 832 522M774 985A450 450 0 0 1 691 927M774 985A450 450 0 0 1 666 1300M316 1310A450 450 0 0 1 220 1162M316 1310A450 450 0 0 1 666 1300"/>
</g>
<g id="students" class="st" transform="scale(1.8533)">
<g id="women" class="w">
<circle cx="658" cy="50" r="6.5"/><circle cx="714" cy="59" r="6.5"/><circle cx="828" cy="102" r="6.5"/><circle cx="764" cy="130" r="6.5"/><circle cx="907" cy="147" r="6.5"/><circle cx="801" cy="180" r="6.5"/><circle cx="866" cy="176" r="6.5"/><circle cx="890" cy="188" r="6.5"/><circle cx="1004" cy="202" r="6.5"/><circle cx="1060" cy="212" r="6.5"/><circle cx="919" cy="212" r="6.5"/><circle cx="822" cy="209" r="6.5"/><circle cx="838" cy="207" r="6.5"/><circle cx="742" cy="219" r="6.5"/><circle cx="540" cy="211" r="6.5"/><circle cx="458" cy="220" r="6.5"/><circle cx="431" cy="268" r="6.5"/><circle cx="508" cy="289" r="6.5"/><circle cx="579" cy="281" r="6.5"/><circle cx="517" cy="315" r="6.5"/><circle cx="592" cy="296" r="6.5"/><circle cx="655" cy="288" r="6.5"/><circle cx="690" cy="270" r="6.5"/><circle cx="718" cy="270" r="6.5"/><circle cx="773" cy="232" r="6.5"/><circle cx="799" cy="236" r="6.5"/><circle cx="767" cy="276" r="6.5"/><circle cx="798" cy="264" r="6.5"/><circle cx="902" cy="238" r="6.5"/><circle cx="955" cy="273" r="6.5"/><circle cx="932" cy="280" r="6.5"/><circle cx="1005" cy="293" r="6.5"/><circle cx="1052" cy="284" r="6.5"/><circle cx="1126" cy="282" r="6.5"/><circle cx="741" cy="304" r="6.5"/><circle cx="784" cy="301" r="6.5"/><circle cx="820" cy="307" r="6.5"/><circle cx="905" cy="298" r="6.5"/><circle cx="950" cy="314" r="6.5"/><circle cx="1015" cy="315" r="6.5"/><circle cx="569" cy="310" r="6.5"/><circle cx="700" cy="321" r="6.5"/><circle cx="537" cy="335" r="6.5"/><circle cx="601" cy="347" r="6.5"/><circle cx="665" cy="350" r="6.5"/><circle cx="799" cy="330" r="6.5"/><circle cx="855" cy="330" r="6.5"/><circle cx="896" cy="323" r="6.5"/><circle cx="938" cy="336" r="6.5"/><circle cx="1025" cy="341" r="6.5"/><circle cx="1051" cy="363" r="6.5"/><circle cx="375" cy="335" r="6.5"/><circle cx="393" cy="329" r="6.5"/><circle cx="395" cy="312" r="6.5"/><circle cx="415" cy="312" r="6.5"/><circle cx="210" cy="348" r="6.5"/><circle cx="341" cy="356" r="6.5"/><circle cx="617" cy="385" r="6.5"/><circle cx="677" cy="392" r="6.5"/><circle cx="708" cy="384" r="6.5"/><circle cx="735" cy="364" r="6.5"/><circle cx="795" cy="381" r="6.5"/><circle cx="874" cy="355" r="6.5"/><circle cx="913" cy="360" r="6.5"/><circle cx="950" cy="351" r="6.5"/><circle cx="983" cy="358" r="6.5"/><circle cx="894" cy="384" r="6.5"/><circle cx="953" cy="381" r="6.5"/><circle cx="991" cy="383" r="6.5"/><circle cx="652" cy="414" r="6.5"/><circle cx="698" cy="405" r="6.5"/><circle cx="773" cy="411" r="6.5"/><circle cx="801" cy="412" r="6.5"/><circle cx="834" cy="404" r="6.5"/><circle cx="857" cy="405" r="6.5"/><circle cx="884" cy="402" r="6.5"/><circle cx="915" cy="410" r="6.5"/><circle cx="945" cy="410" r="6.5"/><circle cx="1056" cy="428" r="6.5"/><circle cx="614" cy="441" r="6.5"/><circle cx="680" cy="432" r="6.5"/><circle cx="765" cy="430" r="6.5"/><circle cx="628" cy="455" r="6.5"/><circle cx="661" cy="452" r="6.5"/><circle cx="709" cy="462" r="6.5"/><circle cx="761" cy="451" r="6.5"/><circle cx="906" cy="428" r="6.5"/><circle cx="931" cy="441" r="6.5"/><circle cx="960" cy="437" r="6.5"/><circle cx="979" cy="446" r="6.5"/><circle cx="746" cy="473" r="6.5"/><circle cx="975" cy="482" r="6.5"/><circle cx="1239" cy="463" r="6.5"/><circle cx="210" cy="468" r="6.5"/><circle cx="206" cy="487" r="6.5"/><circle cx="510" cy="492" r="6.5"/><circle cx="537" cy="491" r="6.5"/><circle cx="563" cy="490" r="6.5"/><circle cx="585" cy="487" r="6.5"/><circle cx="583" cy="514" r="6.5"/><circle cx="608" cy="503" r="6.5"/><circle cx="994" cy="500" r="6.5"/><circle cx="1044" cy="500" r="6.5"/><circle cx="244" cy="512" r="6.5"/><circle cx="185" cy="517" r="6.5"/><circle cx="489" cy="512" r="6.5"/><circle cx="528" cy="519" r="6.5"/><circle cx="488" cy="536" r="6.5"/><circle cx="537" cy="554" r="6.5"/><circle cx="685" cy="514" r="6.5"/><circle cx="705" cy="509" r="6.5"/><circle cx="670" cy="530" r="6.5"/><circle cx="690" cy="540" r="6.5"/><circle cx="642" cy="543" r="6.5"/><circle cx="625" cy="556" r="6.5"/><circle cx="656" cy="557" r="6.5"/><circle cx="959" cy="512" r="6.5"/><circle cx="1080" cy="572" r="6.5"/><circle cx="1143" cy="580" r="6.5"/><circle cx="600" cy="578" r="6.5"/><circle cx="638" cy="571" r="6.5"/><circle cx="564" cy="590" r="6.5"/><circle cx="155" cy="582" r="6.5"/><circle cx="235" cy="612" r="6.5"/><circle cx="528" cy="608" r="6.5"/><circle cx="574" cy="612" r="6.5"/><circle cx="639" cy="594" r="6.5"/><circle cx="740" cy="589" r="6.5"/><circle cx="755" cy="604" r="6.5"/><circle cx="712" cy="624" r="6.5"/><circle cx="1097" cy="614" r="6.5"/><circle cx="1097" cy="636" r="6.5"/><circle cx="259" cy="630" r="6.5"/><circle cx="227" cy="640" r="6.5"/><circle cx="131" cy="645" r="6.5"/><circle cx="275" cy="648" r="6.5"/><circle cx="242" cy="656" r="6.5"/><circle cx="369" cy="624" r="6.5"/><circle cx="395" cy="620" r="6.5"/><circle cx="416" cy="619" r="6.5"/><circle cx="386" cy="637" r="6.5"/><circle cx="517" cy="627" r="6.5"/><circle cx="582" cy="631" r="6.5"/><circle cx="519" cy="643" r="6.5"/><circle cx="539" cy="640" r="6.5"/><circle cx="761" cy="624" r="6.5"/><circle cx="680" cy="634" r="6.5"/><circle cx="703" cy="648" r="6.5"/><circle cx="720" cy="650" r="6.5"/><circle cx="807" cy="652" r="6.5"/><circle cx="1220" cy="662" r="6.5"/><circle cx="473" cy="649" r="6.5"/><circle cx="475" cy="665" r="6.5"/><circle cx="522" cy="655" r="6.5"/><circle cx="566" cy="663" r="6.5"/><circle cx="522" cy="673" r="6.5"/><circle cx="545" cy="676" r="6.5"/><circle cx="590" cy="672" r="6.5"/><circle cx="591" cy="694" r="6.5"/><circle cx="555" cy="705" r="6.5"/><circle cx="572" cy="709" r="6.5"/><circle cx="646" cy="657" r="6.5"/><circle cx="666" cy="660" r="6.5"/><circle cx="650" cy="678" r="6.5"/><circle cx="1056" cy="671" r="6.5"/><circle cx="1123" cy="696" r="6.5"/><circle cx="145" cy="694" r="6.5"/><circle cx="163" cy="680" r="6.5"/><circle cx="178" cy="682" r="6.5"/><circle cx="194" cy="694" r="6.5"/><circle cx="152" cy="715" r="6.5"/><circle cx="170" cy="707" r="6.5"/><circle cx="167" cy="727" r="6.5"/><circle cx="206" cy="744" r="6.5"/><circle cx="226" cy="743" r="6.5"/><circle cx="275" cy="746" r="6.5"/><circle cx="289" cy="755" r="6.5"/><circle cx="432" cy="715" r="6.5"/><circle cx="413" cy="730" r="6.5"/><circle cx="447" cy="729" r="6.5"/><circle cx="430" cy="747" r="6.5"/><circle cx="448" cy="750" r="6.5"/><circle cx="480" cy="740" r="6.5"/><circle cx="606" cy="737" r="6.5"/><circle cx="1062" cy="733" r="6.5"/><circle cx="635" cy="780" r="6.5"/><circle cx="611" cy="814" r="6.5"/><circle cx="135" cy="801" r="6.5"/><circle cx="154" cy="800" r="6.5"/><circle cx="176" cy="806" r="6.5"/><circle cx="194" cy="812" r="6.5"/><circle cx="161" cy="818" r="6.5"/><circle cx="227" cy="830" r="6.5"/><circle cx="163" cy="834" r="6.5"/><circle cx="235" cy="847" r="6.5"/><circle cx="192" cy="858" r="6.5"/><circle cx="210" cy="864" r="6.5"/><circle cx="230" cy="862" r="6.5"/><circle cx="101" cy="859" r="6.5"/><circle cx="120" cy="872" r="6.5"/><circle cx="86" cy="872" r="6.5"/><circle cx="105" cy="880" r="6.5"/><circle cx="89" cy="892" r="6.5"/><circle cx="116" cy="918" r="6.5"/><circle cx="167" cy="909" r="6.5"/><circle cx="135" cy="925" r="6.5"/><circle cx="369" cy="900" r="6.5"/><circle cx="336" cy="935" r="6.5"/><circle cx="893" cy="787" r="6.5"/><circle cx="916" cy="787" r="6.5"/><circle cx="950" cy="777" r="6.5"/><circle cx="975" cy="771" r="6.5"/><circle cx="1013" cy="778" r="6.5"/><circle cx="1032" cy="788" r="6.5"/><circle cx="874" cy="801" r="6.5"/><circle cx="894" cy="805" r="6.5"/><circle cx="913" cy="800" r="6.5"/><circle cx="968" cy="790" r="6.5"/><circle cx="1006" cy="800" r="6.5"/><circle cx="978" cy="829" r="6.5"/><circle cx="1020" cy="818" r="6.5"/><circle cx="1072" cy="808" r="6.5"/><circle cx="1106" cy="841" r="6.5"/><circle cx="788" cy="862" r="6.5"/><circle cx="871" cy="859" r="6.5"/><circle cx="907" cy="852" r="6.5"/><circle cx="944" cy="867" r="6.5"/><circle cx="1004" cy="858" r="6.5"/><circle cx="1026" cy="848" r="6.5"/><circle cx="1053" cy="862" r="6.5"/><circle cx="1023" cy="870" r="6.5"/><circle cx="829" cy="887" r="6.5"/><circle cx="836" cy="902" r="6.5"/><circle cx="859" cy="886" r="6.5"/><circle cx="888" cy="883" r="6.5"/><circle cx="900" cy="908" r="6.5"/><circle cx="876" cy="906" r="6.5"/><circle cx="852" cy="908" r="6.5"/><circle cx="817" cy="904" r="6.5"/><circle cx="862" cy="923" r="6.5"/><circle cx="885" cy="928" r="6.5"/><circle cx="920" cy="918" r="6.5"/><circle cx="940" cy="920" r="6.5"/><circle cx="963" cy="921" r="6.5"/><circle cx="975" cy="894" r="6.5"/><circle cx="991" cy="906" r="6.5"/><circle cx="1090" cy="902" r="6.5"/><circle cx="1073" cy="912" r="6.5"/><circle cx="925" cy="938" r="6.5"/><circle cx="945" cy="940" r="6.5"/><circle cx="968" cy="943" r="6.5"/><circle cx="911" cy="954" r="6.5"/><circle cx="931" cy="960" r="6.5"/><circle cx="952" cy="960" r="6.5"/><circle cx="990" cy="978" r="6.5"/><circle cx="1004" cy="963" r="6.5"/><circle cx="1072" cy="961" r="6.5"/><circle cx="659" cy="981" r="6.5"/><circle cx="1060" cy="1018" r="6.5"/><circle cx="746" cy="972" r="6.5"/><circle cx="731" cy="988" r="6.5"/><circle cx="756" cy="988" r="6.5"/><circle cx="791" cy="986" r="6.5"/><circle cx="821" cy="1016" r="6.5"/><circle cx="835" cy="1026" r="6.5"/><circle cx="868" cy="1015" r="6.5"/><circle cx="896" cy="1012" r="6.5"/><circle cx="911" cy="1027" r="6.5"/><circle cx="893" cy="1040" r="6.5"/><circle cx="839" cy="1033" r="6.5"/><circle cx="727" cy="1046" r="6.5"/><circle cx="764" cy="1043" r="6.5"/><circle cx="781" cy="1045" r="6.5"/><circle cx="799" cy="1048" r="6.5"/><circle cx="763" cy="1063" r="6.5"/><circle cx="779" cy="1060" r="6.5"/><circle cx="796" cy="1073" r="6.5"/><circle cx="777" cy="1076" r="6.5"/><circle cx="641" cy="1077" r="6.5"/><circle cx="1100" cy="1083" r="6.5"/><circle cx="1088" cy="1097" r="6.5"/><circle cx="922" cy="1101" r="6.5"/><circle cx="960" cy="1099" r="6.5"/><circle cx="930" cy="1118" r="6.5"/><circle cx="949" cy="1118" r="6.5"/><circle cx="968" cy="1116" r="6.5"/><circle cx="873" cy="1135" r="6.5"/><circle cx="891" cy="1138" r="6.5"/><circle cx="921" cy="1140" r="6.5"/><circle cx="937" cy="1137" r="6.5"/><circle cx="882" cy="1152" r="6.5"/><circle cx="897" cy="1158" r="6.5"/><circle cx="915" cy="1160" r="6.5"/><circle cx="947" cy="1148" r="6.5"/><circle cx="688" cy="1133" r="6.5"/><circle cx="715" cy="1137" r="6.5"/><circle cx="718" cy="1155" r="6.5"/><circle cx="733" cy="1150" r="6.5"/><circle cx="738" cy="1165" r="6.5"/><circle cx="750" cy="1170" r="6.5"/><circle cx="771" cy="1161" r="6.5"/><circle cx="768" cy="1180" r="6.5"/><circle cx="784" cy="1190" r="6.5"/><circle cx="801" cy="1189" r="6.5"/><circle cx="376" cy="1088" r="6.5"/><circle cx="412" cy="1099" r="6.5"/><circle cx="370" cy="1106" r="6.5"/><circle cx="378" cy="1124" r="6.5"/><circle cx="409" cy="1130" r="6.5"/><circle cx="387" cy="1141" r="6.5"/><circle cx="711" cy="1527" r="6.5"/><circle cx="726" cy="1527" r="6.5"/>
</g>
<g id="men" class="m">
<circle cx="474" cy="57" r="6.5"/><circle cx="565" cy="158" r="6.5"/><circle cx="875" cy="190" r="6.5"/><circle cx="336" cy="241" r="6.5"/><circle cx="358" cy="239" r="6.5"/><circle cx="407" cy="234" r="6.5"/><circle cx="330" cy="264" r="6.5"/><circle cx="452" cy="270" r="6.5"/><circle cx="563" cy="287" r="6.5"/><circle cx="848" cy="235" r="6.5"/><circle cx="844" cy="269" r="6.5"/><circle cx="968" cy="252" r="6.5"/><circle cx="897" cy="270" r="6.5"/><circle cx="1319" cy="266" r="6.5"/><circle cx="710" cy="292" r="6.5"/><circle cx="866" cy="296" r="6.5"/><circle cx="928" cy="300" r="6.5"/><circle cx="607" cy="309" r="6.5"/><circle cx="597" cy="326" r="6.5"/><circle cx="558" cy="350" r="6.5"/><circle cx="730" cy="337" r="6.5"/><circle cx="755" cy="338" r="6.5"/><circle cx="822" cy="336" r="6.5"/><circle cx="328" cy="335" r="6.5"/><circle cx="344" cy="321" r="6.5"/><circle cx="370" cy="356" r="6.5"/><circle cx="330" cy="371" r="6.5"/><circle cx="570" cy="372" r="6.5"/><circle cx="654" cy="395" r="6.5"/><circle cx="745" cy="381" r="6.5"/><circle cx="770" cy="371" r="6.5"/><circle cx="818" cy="368" r="6.5"/><circle cx="852" cy="358" r="6.5"/><circle cx="297" cy="408" r="6.5"/><circle cx="272" cy="428" r="6.5"/><circle cx="680" cy="414" r="6.5"/><circle cx="787" cy="424" r="6.5"/><circle cx="970" cy="415" r="6.5"/><circle cx="1016" cy="419" r="6.5"/><circle cx="699" cy="427" r="6.5"/><circle cx="593" cy="450" r="6.5"/><circle cx="685" cy="450" r="6.5"/><circle cx="596" cy="470" r="6.5"/><circle cx="636" cy="498" r="6.5"/><circle cx="672" cy="466" r="6.5"/><circle cx="1021" cy="476" r="6.5"/><circle cx="532" cy="499" r="6.5"/><circle cx="224" cy="534" r="6.5"/><circle cx="508" cy="511" r="6.5"/><circle cx="718" cy="539" r="6.5"/><circle cx="221" cy="554" r="6.5"/><circle cx="240" cy="556" r="6.5"/><circle cx="502" cy="574" r="6.5"/><circle cx="524" cy="574" r="6.5"/><circle cx="163" cy="600" r="6.5"/><circle cx="240" cy="587" r="6.5"/><circle cx="256" cy="598" r="6.5"/><circle cx="499" cy="594" r="6.5"/><circle cx="554" cy="598" r="6.5"/><circle cx="616" cy="608" r="6.5"/><circle cx="657" cy="608" r="6.5"/><circle cx="738" cy="613" r="6.5"/><circle cx="212" cy="625" r="6.5"/><circle cx="408" cy="636" r="6.5"/><circle cx="547" cy="627" r="6.5"/><circle cx="562" cy="629" r="6.5"/><circle cx="658" cy="640" r="6.5"/><circle cx="540" cy="658" r="6.5"/><circle cx="569" cy="687" r="6.5"/><circle cx="689" cy="666" r="6.5"/><circle cx="1144" cy="684" r="6.5"/><circle cx="202" cy="723" r="6.5"/><circle cx="224" cy="723" r="6.5"/><circle cx="309" cy="719" r="6.5"/><circle cx="272" cy="730" r="6.5"/><circle cx="414" cy="713" r="6.5"/><circle cx="1049" cy="708" r="6.5"/><circle cx="1039" cy="750" r="6.5"/><circle cx="143" cy="820" r="6.5"/><circle cx="210" cy="820" r="6.5"/><circle cx="178" cy="845" r="6.5"/><circle cx="196" cy="836" r="6.5"/><circle cx="213" cy="845" r="6.5"/><circle cx="131" cy="885" r="6.5"/><circle cx="109" cy="893" r="6.5"/><circle cx="150" cy="892" r="6.5"/><circle cx="100" cy="909" r="6.5"/><circle cx="145" cy="909" r="6.5"/><circle cx="156" cy="925" r="6.5"/><circle cx="946" cy="796" r="6.5"/><circle cx="1089" cy="847" r="6.5"/><circle cx="1095" cy="864" r="6.5"/><circle cx="801" cy="848" r="6.5"/><circle cx="761" cy="962" r="6.5"/><circle cx="859" cy="1004" r="6.5"/><circle cx="856" cy="1045" r="6.5"/><circle cx="876" cy="1040" r="6.5"/><circle cx="745" cy="1041" r="6.5"/><circle cx="742" cy="1058" r="6.5"/><circle cx="814" cy="1063" r="6.5"/><circle cx="911" cy="1123" r="6.5"/><circle cx="959" cy="1132" r="6.5"/><circle cx="932" cy="1154" r="6.5"/><circle cx="700" cy="1146" r="6.5"/><circle cx="787" cy="1170" r="6.5"/><circle cx="395" cy="1090" r="6.5"/><circle cx="387" cy="1108" r="6.5"/><circle cx="404" cy="1113" r="6.5"/><circle cx="425" cy="1116" r="6.5"/><circle cx="427" cy="1134" r="6.5"/><circle cx="29" cy="1282" r="6.5"/><circle cx="739" cy="1518" r="6.5"/>
</g>
<g id="nonbinary" class="n">
<circle cx="341" cy="101" r="6.5"/><circle cx="628" cy="95" r="6.5"/><circle cx="717" cy="195" r="6.5"/><circle cx="544" cy="271" r="6.5"/><circle cx="628" cy="329" r="6.5"/><circle cx="664" cy="323" r="6.5"/><circle cx="730" cy="424" r="6.5"/><circle cx="658" cy="436" r="6.5"/><circle cx="567" cy="468" r="6.5"/><circle cx="615" cy="482" r="6.5"/><circle cx="673" cy="557" r="6.5"/><circle cx="586" cy="649" r="6.5"/><circle cx="185" cy="738" r="6.5"/><circle cx="1082" cy="767" r="6.5"/><circle cx="911" cy="888" r="6.5"/><circle cx="780" cy="963" r="6.5"/><circle cx="943" cy="1096" r="6.5"/><circle cx="876" cy="1120" r="6.5"/><circle cx="754" cy="1152" r="6.5"/>
</g>
<g id="trans" class="t">
<circle cx="705" cy="571" r="6.5"/><circle cx="693" cy="600" r="6.5"/><circle cx="774" cy="985" r="6.5"/>
</g>
</g>
<g id="cluster-none" class="bl">
<g class="w">
<circle cx="685" cy="2382" r="12"/><circle cx="721" cy="2377" r="12"/><circle cx="757" cy="2378" r="12"/><circle cx="791" cy="2393" r="12"/><circle cx="619" cy="2410" r="12"/><circle cx="681" cy="2419" r="12"/><circle cx="714" cy="2412" r="12"/><circle cx="779" cy="2428" r="12"/><circle cx="843" cy="2443" r="12"/><circle cx="554" cy="2453" r="12"/><circle cx="617" cy="2448" r="12"/><circle cx="743" cy="2445" r="12"/><circle cx="804" cy="2452" r="12"/><circle cx="586" cy="2467" r="12"/><circle cx="642" cy="2473" r="12"/><circle cx="674" cy="2461" r="12"/><circle cx="826" cy="2478" r="12"/><circle cx="563" cy="2495" r="12"/><circle cx="608" cy="2490" r="12"/><circle cx="697" cy="2490" r="12"/><circle cx="729" cy="2478" r="12"/><circle cx="795" cy="2495" r="12"/><circle cx="513" cy="2509" r="12"/><circle cx="661" cy="2503" r="12"/><circle cx="841" cy="2510" r="12"/><circle cx="546" cy="2526" r="12"/><circle cx="588" cy="2522" r="12"/><circle cx="688" cy="2528" r="12"/><circle cx="725" cy="2518" r="12"/><circle cx="776" cy="2528" r="12"/><circle cx="813" cy="2531" r="12"/><circle cx="750" cy="2549" r="12"/><circle cx="543" cy="2562" r="12"/><circle cx="576" cy="2553" r="12"/><circle cx="614" cy="2552" r="12"/><circle cx="792" cy="2562" r="12"/><circle cx="826" cy="2569" r="12"/><circle cx="513" cy="2578" r="12"/><circle cx="562" cy="2593" r="12"/><circle cx="597" cy="2584" r="12"/><circle cx="639" cy="2579" r="12"/><circle cx="700" cy="2589" r="12"/><circle cx="735" cy="2585" r="12"/><circle cx="897" cy="2586" r="12"/><circle cx="667" cy="2605" r="12"/><circle cx="803" cy="2602" r="12"/><circle cx="585" cy="2623" r="12"/><circle cx="645" cy="2632" r="12"/><circle cx="703" cy="2623" r="12"/><circle cx="739" cy="2622" r="12"/><circle cx="775" cy="2623" r="12"/><circle cx="866" cy="2623" r="12"/><circle cx="552" cy="2638" r="12"/><circle cx="613" cy="2649" r="12"/><circle cx="818" cy="2637" r="12"/><circle cx="717" cy="2658" r="12"/><circle cx="788" cy="2657" r="12"/><circle cx="852" cy="2656" r="12"/><circle cx="683" cy="2682" r="12"/><circle cx="823" cy="2677" r="12"/><circle cx="605" cy="2683" r="12"/><circle cx="719" cy="2692" r="12"/><circle cx="753" cy="2693" r="12"/><circle cx="789" cy="2690" r="12"/><circle cx="635" cy="2702" r="12"/><circle cx="773" cy="2727" r="12"/><circle cx="810" cy="2719" r="12"/>
</g>
<g class="m">
<circle cx="651" cy="2394" r="12"/><circle cx="749" cy="2411" r="12"/><circle cx="819" cy="2416" r="12"/><circle cx="649" cy="2433" r="12"/><circle cx="707" cy="2448" r="12"/><circle cx="772" cy="2468" r="12"/><circle cx="863" cy="2478" r="12"/><circle cx="531" cy="2480" r="12"/><circle cx="756" cy="2502" r="12"/><circle cx="878" cy="2515" r="12"/><circle cx="628" cy="2517" r="12"/><circle cx="508" cy="2543" r="12"/><circle cx="652" cy="2542" r="12"/><circle cx="852" cy="2545" r="12"/><circle cx="889" cy="2550" r="12"/><circle cx="675" cy="2565" r="12"/><circle cx="714" cy="2553" r="12"/><circle cx="768" cy="2587" r="12"/><circle cx="863" cy="2582" r="12"/><circle cx="530" cy="2610" r="12"/><circle cx="619" cy="2610" r="12"/><circle cx="837" cy="2607" r="12"/><circle cx="900" cy="2623" r="12"/><circle cx="678" cy="2647" r="12"/><circle cx="576" cy="2663" r="12"/><circle cx="752" cy="2657" r="12"/><circle cx="889" cy="2657" r="12"/><circle cx="647" cy="2669" r="12"/><circle cx="871" cy="2687" r="12"/><circle cx="843" cy="2706" r="12"/><circle cx="668" cy="2713" r="12"/><circle cx="702" cy="2723" r="12"/><circle cx="738" cy="2727" r="12"/>
</g>
<circle class="t" cx="587" cy="2428" r="12"/>
</g>
<g id="hubs" class="lbl">
<g id="hub-teaching-assistant"><circle class="hub" cx="1001" cy="98" r="17" stroke-width="5"/><text x="751" y="120" font-size="60" textLength="500" lengthAdjust="spacingAndGlyphs">Teaching Assistant</text></g>
<g id="hub-other-faculty"><circle class="hub" cx="1303" cy="274" r="20" stroke-width="5"/><text x="1103" y="297" font-size="66" textLength="398" lengthAdjust="spacingAndGlyphs">Other Faculty</text></g>
<g id="hub-dean-of-students"><circle class="hub" cx="823" cy="315" r="20" stroke-width="5"/><text x="578" y="343" font-size="64" textLength="480" lengthAdjust="spacingAndGlyphs">Dean of Students</text></g>
<g id="hub-student-affairs"><circle class="hub" cx="1125" cy="441" r="30" stroke-width="7"/><text x="878" y="469" font-size="74" textLength="489" lengthAdjust="spacingAndGlyphs">Student Affairs</text></g>
<g id="hub-support-group"><circle class="hub" cx="1894" cy="487" r="14" stroke-width="4"/><text x="1703" y="510" font-size="60" textLength="387" lengthAdjust="spacingAndGlyphs">Support Group</text></g>
<g id="hub-roommate"><circle class="hub" cx="2048" cy="695" r="30" stroke-width="7"/><text x="1868" y="723" font-size="78" textLength="361" lengthAdjust="spacingAndGlyphs">Roommate</text></g>
<g id="hub-religious"><circle class="hub" cx="2053" cy="890" r="18" stroke-width="5"/><text x="1927" y="912" font-size="62" textLength="258" lengthAdjust="spacingAndGlyphs">Religious</text></g>
<g id="hub-professor"><circle class="hub" cx="856" cy="745" r="62" stroke-width="10"/><text x="638" y="782" font-size="112" textLength="437" lengthAdjust="spacingAndGlyphs">Professor</text></g>
<g id="hub-advisor"><circle class="hub" cx="689" cy="964" r="60" stroke-width="10"/><text x="504" y="1004" font-size="110" textLength="369" lengthAdjust="spacingAndGlyphs">Advisor</text></g>
<g id="hub-family"><circle class="hub" cx="1542" cy="967" r="64" stroke-width="10"/><text x="1371" y="1006" font-size="114" textLength="337" lengthAdjust="spacingAndGlyphs">Family</text></g>
<g id="hub-friend"><circle class="hub" cx="1730" cy="1180" r="79" stroke-width="12"/><text x="1550" y="1224" font-size="130" textLength="350" lengthAdjust="spacingAndGlyphs">Friend</text></g>
<g id="hub-partner"><circle class="hub" cx="1379" cy="1403" r="60" stroke-width="10"/><text x="1219" y="1440" font-size="106" textLength="319" lengthAdjust="spacingAndGlyphs">Partner</text></g>
<g id="hub-other-academic"><circle class="hub" cx="1281" cy="1718" r="20" stroke-width="5"/><text x="1040" y="1751" font-size="66" textLength="476" lengthAdjust="spacingAndGlyphs">Other Academic</text></g>
<g id="hub-other-personal"><text x="2153" y="1866" font-size="56" textLength="358" lengthAdjust="spacingAndGlyphs">Other Personal</text></g>
<g id="hub-none-personal"><circle class="hub" cx="408" cy="2154" r="65" stroke-width="10"/><text x="61" y="2196" font-size="114" textLength="689" lengthAdjust="spacingAndGlyphs">None Personal</text></g>
<g id="hub-none-academic"><circle class="hub" cx="1234" cy="2409" r="72" stroke-width="11"/><text x="828" y="2452" font-size="120" textLength="810" lengthAdjust="spacingAndGlyphs">None Academic</text></g>
</g>
<g id="stats" class="lbl" text-anchor="end">
<text x="2592" y="88" font-size="66" font-weight="bold" textLength="398" lengthAdjust="spacingAndGlyphs">During Covid</text>
<text x="2592" y="179" font-size="64" textLength="382" lengthAdjust="spacingAndGlyphs">Students= 600</text>
<text x="2592" y="272" font-size="64" textLength="275" lengthAdjust="spacingAndGlyphs">Ties= 1695</text>
<text x="2592" y="363" font-size="64" textLength="368" lengthAdjust="spacingAndGlyphs">Density= 0.18</text>
</g>
<g id="legend">
<rect x="2070" y="2392" width="540" height="500" fill="#fcfcfc" stroke="#8a8a8a" stroke-width="3"/>
<g class="lbl" font-size="66">
<text x="2122" y="2498">Women</text>
<text x="2122" y="2613">Men</text>
<text x="2122" y="2728">Trans</text>
<text x="2122" y="2845">Non-Binary</text>
</g>
<circle class="lg" cx="2520" cy="2469" r="44" fill="#ff80bf"/>
<circle class="lg" cx="2520" cy="2589" r="44" fill="#3a86ff"/>
<circle class="lg" cx="2520" cy="2702" r="44" fill="#00ee00"/>
<circle class="lg" cx="2520" cy="2824" r="44" fill="#000"/>
</g>
<rect id="frame" x="13" y="17" width="2594" height="2873" fill="none" stroke="#111" stroke-width="4"/>
</svg>
